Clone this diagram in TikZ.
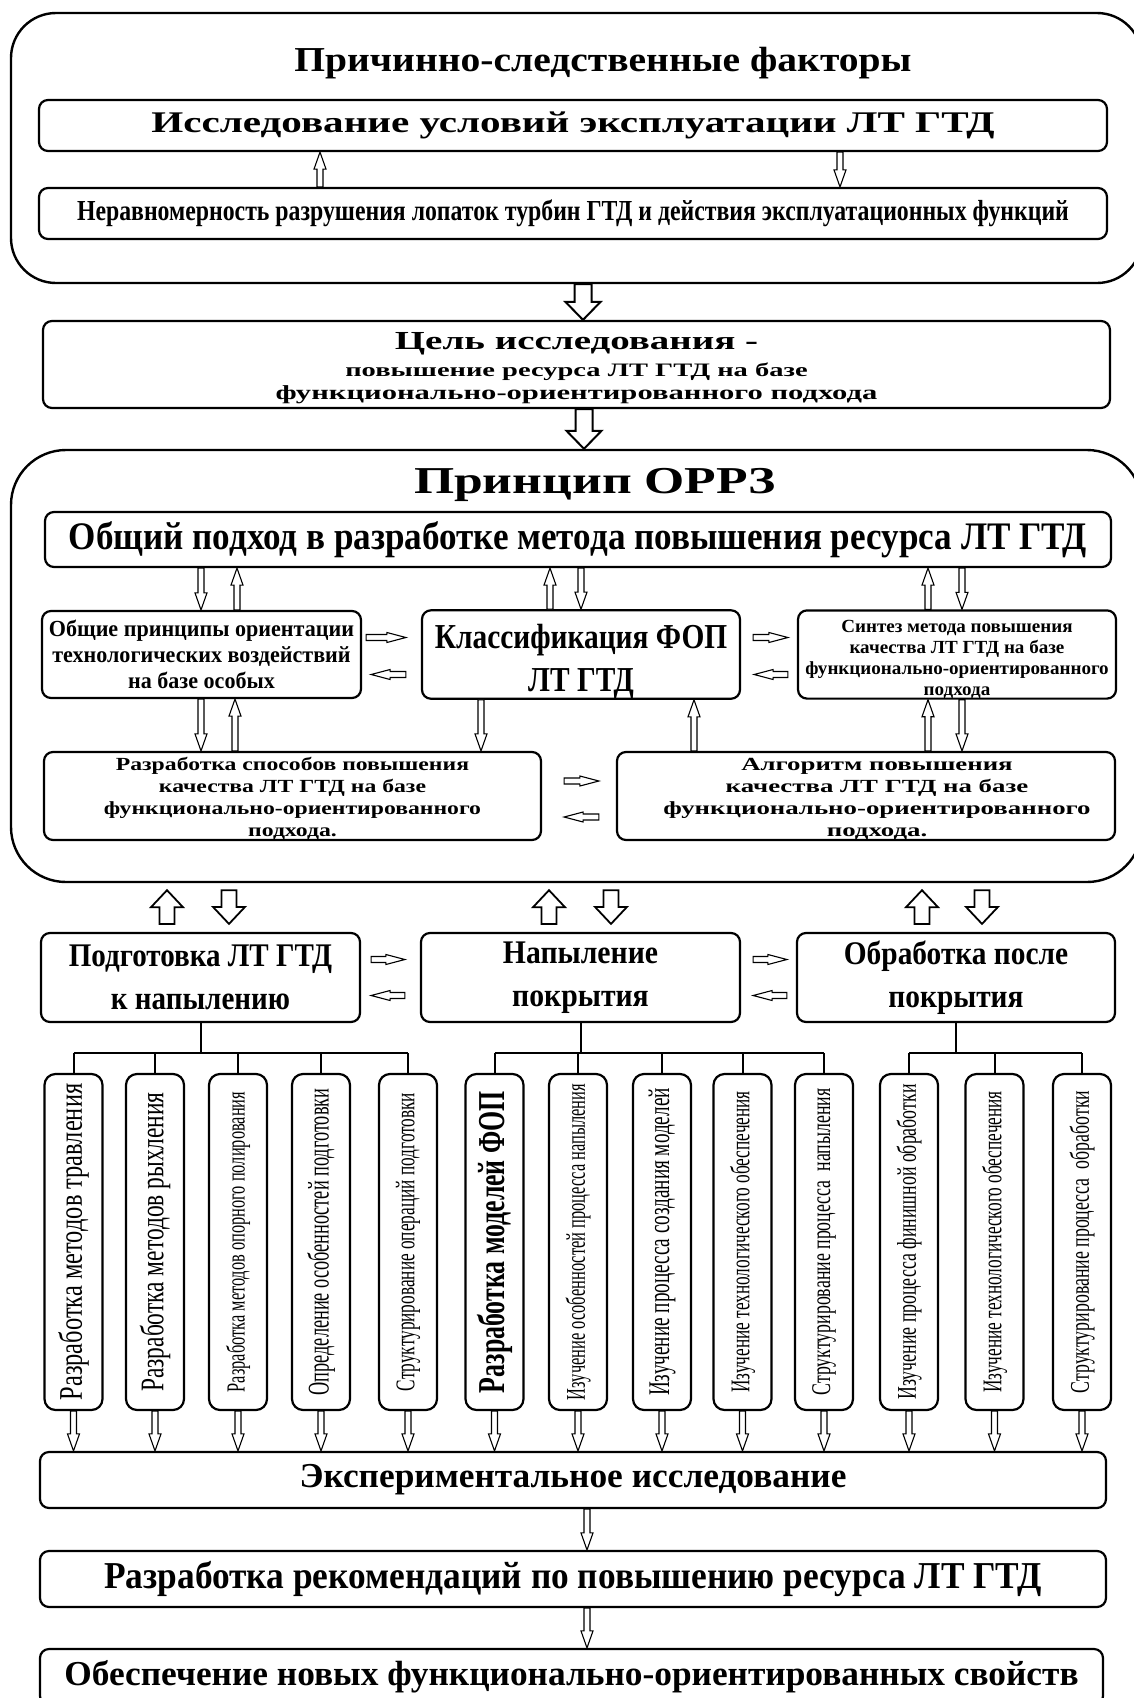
\documentclass[tikz,border=0pt]{standalone}
\usepackage{fontspec}
\setmainfont{Liberation Serif}
\usetikzlibrary{calc}
\newcommand{\txtf}[3]{\rmfamily\fontsize{#1}{#2}\selectfont\addfontfeatures{FakeStretch=#3}}
\tikzset{
  box/.style={draw,line width=2.2pt,rounded corners=9pt,inner sep=0pt,align=center},
  bigframe/.style={draw,line width=2.4pt,rounded corners=#1,inner sep=0pt},
  vbox/.style={box,minimum width=58pt,minimum height=336pt,rounded corners=11pt},
  linkline/.style={line width=2pt},
  hollow/.style n args={3}{fill=white,line join=miter,to path={let \p1=(\tikztostart),\p2=(\tikztotarget) in
    ($(\p1)!#1!90:(\p2)$) -- ($(\p2)!#3!(\p1)+(\p1)!#1!90:(\p2)-(\p1)$)
    -- ($(\p2)!#3!(\p1)+(\p1)!#2!90:(\p2)-(\p1)$) -- (\p2)
    -- ($(\p2)!#3!(\p1)+(\p1)!#2!-90:(\p2)-(\p1)$) -- ($(\p2)!#3!(\p1)+(\p1)!#1!-90:(\p2)-(\p1)$)
    -- ($(\p1)!#1!-90:(\p2)$) -- cycle}},
  sarr/.style={hollow={3pt}{6pt}{17pt},line width=1.1pt},
  harr/.style={hollow={3pt}{5pt}{19pt},line width=1.1pt},
  barr/.style={hollow={8.5pt}{17.5pt}{18pt},line width=2pt},
  darr/.style={hollow={7.5pt}{16pt}{17pt},line width=1.8pt}
}

\begin{document}
\begin{tikzpicture}[x=1pt,y=-1pt]
\useasboundingbox (0,0) rectangle (1134,1698);
\clip (0,0) rectangle (1134,1698);
\node[bigframe=45pt,minimum width=1131pt,minimum height=270pt] (cause) at (576.5,148) {};
\node[font={\bfseries\txtf{35}{40}{1.13}}] (causet) at (603,63) {Причинно-следственные факторы};
\node[box,minimum width=1068pt,minimum height=51pt,font={\bfseries\txtf{30}{34}{1.37}}] (expl) at (573,125.5) {Исследование условий эксплуатации ЛТ ГТД};
\node[box,minimum width=1068pt,minimum height=51pt,font={\bfseries\txtf{29}{33}{0.82}}] (uneven) at (573,213.5) {Неравномерность разрушения лопаток турбин ГТД и действия эксплуатационных функций};
\draw[sarr] (320,0 |- uneven.north) to (320,0 |- expl.south);
\draw[sarr] (840,0 |- expl.south) to (840,0 |- uneven.north);

\node[box,minimum width=1067pt,minimum height=87pt,font={\bfseries\txtf{19}{27}{1.5}}] (goal) at (576.5,364.5)
 {{\txtf{26}{28}{1.5}\rule{0pt}{24pt}Цель исследования -}\\повышение ресурса ЛТ ГТД на базе\\[-4pt]{\txtf{20}{23}{1.53}функционально-ориентированного подхода}};
\draw[barr] (583,0 |- cause.south) to (583,0 |- goal.north);

\node[bigframe=55pt,minimum width=1131pt,minimum height=432pt] (orrz) at (576.5,666) {};
\draw[barr] (584,0 |- goal.south) to (584,0 |- orrz.north);
\node[font={\bfseries\txtf{38}{42}{1.36}}] (orrzt) at (595,485) {Принцип ОРРЗ};
\node[box,minimum width=1066pt,minimum height=55pt,font={\bfseries\txtf{39}{42}{0.9}}] (common) at (578,539.5) {Общий подход в разработке метода повышения ресурса ЛТ ГТД};
\node[box,minimum width=319pt,minimum height=87pt,font={\bfseries\txtf{23}{26}{0.96}}] (princ) at (201.5,654.5) {Общие принципы ориентации\\технологических воздействий\\на базе особых};
\node[box,minimum width=318pt,minimum height=87pt,font={\bfseries\txtf{35}{43}{0.84}}] (classif) at (581,654.5) {\rule{0pt}{38pt}Классификация ФОП\\ЛТ ГТД};
\node[box,minimum width=318pt,minimum height=87pt,font={\bfseries\txtf{18.5}{21}{1.03}}] (synth) at (957,654.5) {\rule{0pt}{22pt}Синтез метода повышения\\качества ЛТ ГТД на базе\\функционально-ориентированного\\подхода};
\node[box,minimum width=497pt,minimum height=88pt,font={\bfseries\txtf{18.5}{22}{1.28}}] (ways) at (292.5,796) {\rule{0pt}{18pt}Разработка способов повышения\\качества ЛТ ГТД на базе\\функционально-ориентированного\\подхода.};
\node[box,minimum width=498pt,minimum height=88pt,font={\bfseries\txtf{18.5}{22}{1.45}}] (algo) at (866,796) {\hspace*{22pt}\rule{0pt}{18pt}Алгоритм повышения\\\hspace*{22pt}качества ЛТ ГТД на базе\\\hspace*{22pt}функционально-ориентированного\\\hspace*{22pt}подхода.};
\draw[sarr] (common.south -| 201,0) to (princ.north -| 201,0);
\draw[sarr] (princ.north -| 237,0) to (common.south -| 237,0);
\draw[sarr] (classif.north -| 550,0) to (common.south -| 550,0);
\draw[sarr] (common.south -| 581,0) to (classif.north -| 581,0);
\draw[sarr] (synth.north -| 928,0) to (common.south -| 928,0);
\draw[sarr] (common.south -| 962,0) to (synth.north -| 962,0);
\draw[sarr] (princ.south -| 201,0) to (ways.north -| 201,0);
\draw[sarr] (ways.north -| 235,0) to (princ.south -| 235,0);
\draw[sarr] (classif.south -| 481,0) to (ways.north -| 481,0);
\draw[sarr] (algo.north -| 694,0) to (classif.south -| 694,0);
\draw[sarr] (algo.north -| 928,0) to (synth.south -| 928,0);
\draw[sarr] (synth.south -| 962,0) to (algo.north -| 962,0);
\draw[harr] ($(princ.east)+(4,-17)$) to ($(classif.west)+(-15,-17)$);
\draw[harr] ($(classif.west)+(-15,20)$) to ($(princ.east)+(9,20)$);
\draw[harr] ($(classif.east)+(12,-17)$) to ($(synth.west)+(-9,-17)$);
\draw[harr] ($(synth.west)+(-9,20)$) to ($(classif.east)+(13,20)$);
\draw[harr] ($(ways.east)+(22,-15)$) to ($(algo.west)+(-17,-15)$);
\draw[harr] ($(algo.west)+(-17,21)$) to ($(ways.east)+(22,21)$);

\node[box,minimum width=319pt,minimum height=89pt,font={\bfseries\txtf{33}{43}{0.88}}] (prep) at (200.5,977.5) {Подготовка ЛТ ГТД\\к напылению};
\node[box,minimum width=319pt,minimum height=89pt,font={\bfseries\txtf{33}{43}{0.9}}] (spray) at (580.5,977.5) {Напыление\\покрытия};
\node[box,minimum width=318pt,minimum height=89pt,font={\bfseries\txtf{33}{43}{0.89}}] (post) at (956,977.5) {Обработка после\\покрытия};
\draw[darr] ($(prep.north -| 167,0)+(0,-8)$) to ($(orrz.south -| 167,0)+(0,7)$);
\draw[darr] ($(orrz.south -| 229,0)+(0,7)$) to ($(prep.north -| 229,0)+(0,-8)$);
\draw[darr] ($(spray.north -| 549,0)+(0,-8)$) to ($(orrz.south -| 549,0)+(0,7)$);
\draw[darr] ($(orrz.south -| 611,0)+(0,7)$) to ($(spray.north -| 611,0)+(0,-8)$);
\draw[darr] ($(post.north -| 922,0)+(0,-8)$) to ($(orrz.south -| 922,0)+(0,7)$);
\draw[darr] ($(orrz.south -| 982,0)+(0,7)$) to ($(post.north -| 982,0)+(0,-8)$);
\draw[harr] ($(prep.east)+(10,-18)$) to ($(spray.west)+(-15,-18)$);
\draw[harr] ($(spray.west)+(-15,18)$) to ($(prep.east)+(10,18)$);
\draw[harr] ($(spray.east)+(12,-18)$) to ($(post.west)+(-9,-18)$);
\draw[harr] ($(post.west)+(-9,18)$) to ($(spray.east)+(12,18)$);

\node[vbox,font={\txtf{33}{36}{0.74}}] (v1) at (73.5,1242) {\rotatebox{90}{Разработка методов травления}};
\node[vbox,font={\txtf{33}{36}{0.71}}] (v2) at (155,1242) {\rotatebox{90}{Разработка методов рыхления}};
\node[vbox,font={\txtf{26}{30}{0.63}}] (v3) at (238,1242) {\rotatebox{90}{Разработка методов опорного полирования}};
\node[vbox,font={\txtf{30}{33}{0.61}}] (v4) at (321,1242) {\rotatebox{90}{Определение особенностей подготовки}};
\node[vbox,font={\txtf{27}{30}{0.64}}] (v5) at (408,1242) {\rotatebox{90}{Структурирование операций подготовки}};
\node[vbox,font={\bfseries\txtf{38}{40}{0.68}}] (v6) at (494.5,1242) {\rotatebox{90}{Разработка моделей ФОП}};
\node[vbox,font={\txtf{27}{30}{0.61}}] (v7) at (578,1242) {\rotatebox{90}{Изучение особенностей процесса напыления}};
\node[vbox,font={\txtf{30}{33}{0.64}}] (v8) at (662,1242) {\rotatebox{90}{Изучение процесса создания моделей}};
\node[vbox,font={\txtf{27}{30}{0.64}}] (v9) at (742.5,1242) {\rotatebox{90}{Изучение технологического обеспечения}};
\node[vbox,font={\txtf{27}{30}{0.66}}] (v10) at (824,1242) {\rotatebox{90}{Структурирование процесса \ напыления}};
\node[vbox,font={\txtf{27}{30}{0.66}}] (v11) at (909,1242) {\rotatebox{90}{Изучение процесса финишной обработки}};
\node[vbox,font={\txtf{27}{30}{0.64}}] (v12) at (994.5,1242) {\rotatebox{90}{Изучение технологического обеспечения}};
\node[vbox,font={\txtf{27}{30}{0.66}}] (v13) at (1082,1242) {\rotatebox{90}{Структурирование процесса \ обработки}};
\coordinate (bus) at (0,1053);
\draw[linkline] (prep.south) -- (prep.south |- bus);
\draw[linkline] (spray.south) -- (spray.south |- bus);
\draw[linkline] (post.south) -- (post.south |- bus);
\draw[linkline] (v1.north |- bus) -- (v5.north |- bus);
\draw[linkline] (v6.north |- bus) -- (v10.north |- bus);
\draw[linkline] (v11.north |- bus) -- (v13.north |- bus);
\foreach \i in {1,...,13} \draw[linkline] (v\i.north |- bus) -- (v\i.north);

\node[box,minimum width=1066pt,minimum height=56pt,font={\bfseries\txtf{35}{40}{1.01}}] (exper) at (573,1480) {Экспериментальное исследование};
\node[box,minimum width=1066pt,minimum height=56pt,font={\bfseries\txtf{38}{42}{0.93}}] (recom) at (573,1579) {Разработка рекомендаций по повышению ресурса ЛТ ГТД};
\node[box,minimum width=1063pt,minimum height=56pt,font={\bfseries\txtf{35}{40}{1.01}}] (props) at (571.5,1677) {Обеспечение новых функционально-ориентированных свойств};
\foreach \i in {1,...,13} \draw[sarr] (v\i.south) to (v\i.south |- exper.north);
\draw[sarr] (587,0 |- exper.south) to (587,0 |- recom.north);
\draw[sarr] (587,0 |- recom.south) to (587,0 |- props.north);
\end{tikzpicture}
\end{document}
